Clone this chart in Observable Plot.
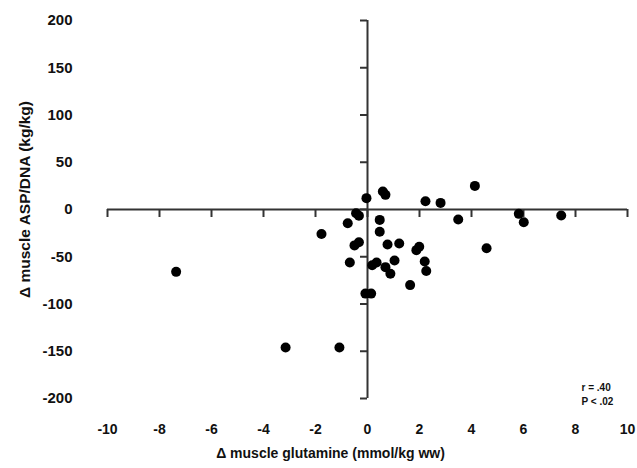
<!DOCTYPE html>
<html>
<head>
<meta charset="utf-8">
<script src="https://cdn.jsdelivr.net/npm/d3@7"></script>
<script src="https://cdn.jsdelivr.net/npm/@observablehq/plot@0.6"></script>
<style>
  body { margin: 0; background: #fff; }
</style>
</head>
<body>
<div id="chart"></div>
<script>
const glutamine = [-0.04, 0.59, 0.69, 2.23, 2.81, 4.13, -0.44, -0.33, -0.76, 0.47, 3.49, -1.77, 0.47, -0.33, -0.5, 0.77, 1.22, 1.99, 1.88, 4.58, -0.68, 0.35, 0.18, 1.04, 0.69, 0.88, 2.2, 2.26, 1.64, -0.08, 0.14, 5.82, 6.01, 7.45, -7.36, -3.15, -1.08];
const aspDna = [12, 19, 15.5, 8.8, 7, 25, -3.9, -6.7, -14.5, -11, -10.6, -26, -23.6, -34.6, -38, -37, -36, -39.5, -43, -41, -56, -56, -59, -54, -61, -68, -55, -65, -80, -89, -89, -4.6, -13.4, -6.3, -66, -146, -146];
const xTicks = [-10, -8, -6, -4, -2, 0, 2, 4, 6, 8, 10];
const yTicks = [-200, -150, -100, -50, 0, 50, 100, 150, 200];
const xTitle = "Δ muscle glutamine (mmol/kg ww)";
const yTitle = "Δ muscle ASP/DNA (kg/kg)";
const statsText = ["r = .40", "P < .02"];

const points = glutamine.map((g, i) => ({x: g, y: aspDna[i]}));
const axisColor = "#333";

const chart = Plot.plot({
  width: 637,
  height: 468,
  marginLeft: 107,
  marginRight: 10,
  marginTop: 20,
  marginBottom: 70,
  style: {fontFamily: "'Liberation Sans', Arial, sans-serif", fontSize: "14px", fontWeight: "bold", color: "#111", background: "#fff"},
  x: {domain: [-10, 10]},
  y: {domain: [-200, 200]},
  marks: [
    Plot.axisX({ticks: xTicks, tickSize: 0, tickPadding: 26, tickFormat: d => d.toString(), label: null, fontWeight: "bold"}),
    Plot.axisY({ticks: yTicks, tickSize: 0, tickPadding: 35, tickFormat: d => d.toString(), label: null, fontWeight: "bold", fontSize: 15}),
    // horizontal axis line through y = 0
    Plot.ruleY([0], {x1: xTicks[0], x2: xTicks[xTicks.length - 1], stroke: axisColor, strokeWidth: 2}),
    // vertical axis line through x = 0
    Plot.ruleX([0], {y1: yTicks[0], y2: yTicks[yTicks.length - 1], stroke: axisColor, strokeWidth: 2}),
    // tick marks on the horizontal axis (downwards)
    Plot.ruleX(xTicks, {x: d => d, y1: () => 0, y2: () => 0, insetBottom: -8, stroke: axisColor, strokeWidth: 2}),
    // tick marks on the vertical axis (to the left)
    Plot.ruleY(yTicks, {y: d => d, x1: () => 0, x2: () => 0, insetLeft: -7, stroke: axisColor, strokeWidth: 2}),
    Plot.dot(points, {x: "x", y: "y", r: 5, fill: "#000", stroke: "none"}),
    Plot.text([xTitle], {frameAnchor: "bottom", dx: -37, dy: 59, fontSize: 14, fontWeight: "bold", fill: "#111"}),
    Plot.text([yTitle], {frameAnchor: "left", textAnchor: "middle", rotate: -90, dx: -82, dy: -10, fontSize: 15.5, fontWeight: "bold", fill: "#111"}),
    Plot.text([statsText.join("\n")], {frameAnchor: "bottom-right", textAnchor: "start", lineAnchor: "bottom", dx: -46, dy: 6, lineHeight: 1.4, fontSize: 10, fontWeight: "bold", fill: "#111"})
  ]
});
document.getElementById("chart").appendChild(chart);
</script>
</body>
</html>
